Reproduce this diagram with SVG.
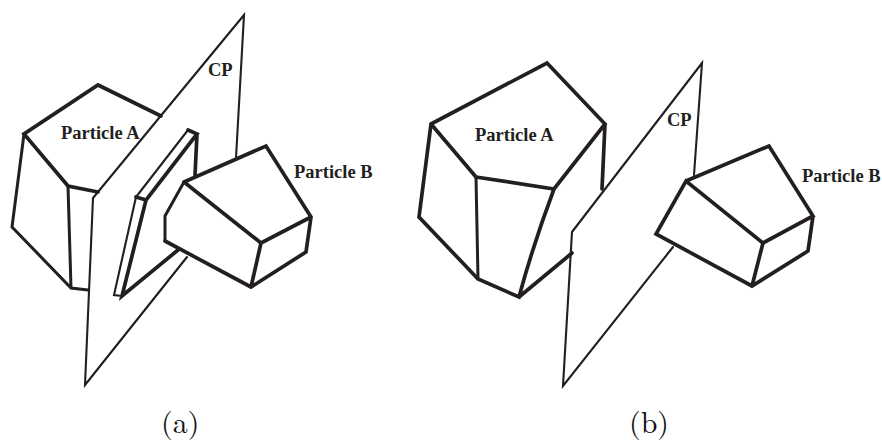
<svg xmlns="http://www.w3.org/2000/svg" width="882" height="443" viewBox="0 0 882 443">
<style>
.t{fill:none;stroke:#231f20;stroke-width:3.7;stroke-linejoin:miter;stroke-linecap:round}
.m{fill:none;stroke:#231f20;stroke-width:3;stroke-linejoin:miter;stroke-linecap:round}
.p{fill:none;stroke:#231f20;stroke-width:2.1;stroke-linejoin:miter;stroke-linecap:round}
.l{font-family:"Liberation Serif",serif;font-weight:bold;font-size:18.5px;fill:#231f20}
.c{font-family:"Latin Modern Roman","DejaVu Serif","Liberation Serif",serif;font-size:30px;fill:#111}
</style>
<rect width="882" height="443" fill="#fff"/>
<g id="figure-a">
<g id="cp-a"><path class="p" d="M236 158L244 15L93 198L85 385L187 257"/><text class="l" x="208" y="76">CP</text></g>
<g id="particle-a-a">
<path class="t" d="M161 116L98 85L24 134L68 186L98 192"/>
<path class="m" d="M24 134L12 227L71 288L88 290M68 186L71 288"/>
<text class="l" x="61" y="139">Particle A</text>
</g>
<g id="slab-a">
<path class="p" d="M188 130L136 197L114 295L122 296"/>
<path class="t" d="M188 130L197 134L146 200L122 296L178 250M136 197L146 200M197 134L195 175"/>
</g>
<g id="particle-b-a">
<path class="t" d="M184 182L266 146L311 217M184 182L261 243L311 217M165 241L251 287L306 252L311 217M261 243L251 287"/>
<path class="m" d="M184 182L165 216L165 241"/>
<text class="l" x="294" y="178">Particle B</text>
</g>
<text class="c" x="161" y="433">(a)</text>
</g>
<g id="figure-b">
<g id="cp-b"><path class="p" d="M694 175L702 63L572 232L563 386L673 247"/><text class="l" x="667" y="126">CP</text></g>
<g id="particle-a-b">
<path class="t" d="M431 124L547 63L605 124L554 189L476 177L431 124M605 124L602 189M554 189Q533 245 519 297L478 279L419 217L431 124M519 297L572 253"/>
<path class="m" d="M476 177L478 279"/>
<text class="l" x="475" y="141">Particle A</text>
</g>
<g id="particle-b-b">
<path class="t" d="M686 181L769 146L813 216L763 243L686 181L656 234L752 286L808 251L813 216M763 243L752 286"/>
<text class="l" x="802" y="182">Particle B</text>
</g>
<text class="c" x="629" y="433">(b)</text>
</g>
</svg>
